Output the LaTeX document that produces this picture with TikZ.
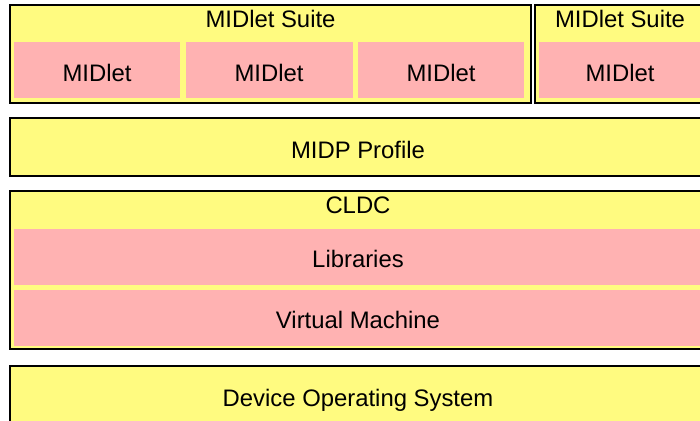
\documentclass[tikz,border=0pt]{standalone}
\usepackage{fontspec}
\setmainfont{Liberation Sans}
\definecolor{layeryellow}{RGB}{255,251,128}
\definecolor{layerpink}{RGB}{255,178,178}
\begin{document}
\begin{tikzpicture}[x=0.75pt,y=-0.75pt,
  frame/.style={draw=black,line width=1.7pt,fill=layeryellow},
  part/.style={fill=layerpink},
  lbl/.style={anchor=base,inner sep=0pt,font=\fontsize{17.9}{20}\selectfont}]
\useasboundingbox (0,0) rectangle (700,421);
% MIDlet suites
\draw[frame] (10,5) rectangle (531,103);
\draw[frame] (535,5) rectangle (706,103);
\fill[part] (14,42) rectangle (180,98);
\fill[part] (186,42) rectangle (352.5,98);
\fill[part] (357.5,42) rectangle (524,98);
\fill[part] (539,42) rectangle (701,98);
\node[lbl] (suiteA) at (270.5,27) {MIDlet Suite};
\node[lbl] (suiteB) at (620,27) {MIDlet Suite};
\node[lbl] (midletA) at (97,81) {MIDlet};
\node[lbl] (midletB) at (269,81) {MIDlet};
\node[lbl] (midletC) at (441,81) {MIDlet};
\node[lbl] (midletD) at (620,81) {MIDlet};
% profile
\draw[frame] (10,118) rectangle (706,176);
\node[lbl] (midp) at (358,158) {MIDP Profile};
% configuration
\draw[frame] (10,191) rectangle (706,349);
\fill[part] (14,228.5) rectangle (702,285);
\fill[part] (14,290) rectangle (702,346);
\node[lbl] (cldc) at (358,213.3) {CLDC};
\node[lbl] (libs) at (358,267.7) {Libraries};
\node[lbl] (vm) at (358,328.3) {Virtual Machine};
% operating system
\draw[frame] (10,366) rectangle (706,440);
\node[lbl] (os) at (358,406) {Device Operating System};
\end{tikzpicture}
\end{document}
